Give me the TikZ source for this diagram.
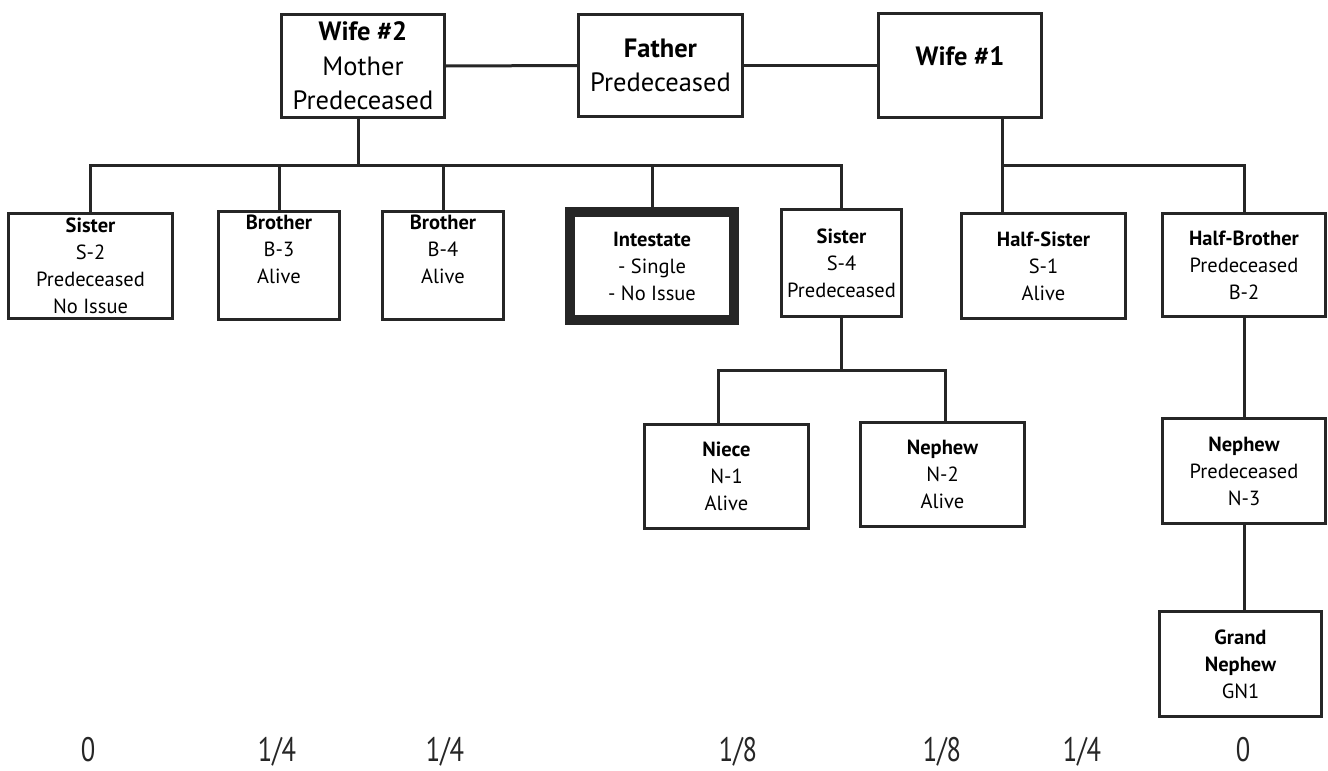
\documentclass[tikz,border=0pt]{standalone}
\usepackage{fontspec}
\setmainfont{PT Sans}
\begin{document}
\begin{tikzpicture}[x=1pt,y=-1pt,
  box/.style={draw=black!85,line width=3pt,rectangle,inner sep=0pt,align=center},
  big/.style={font=\fontsize{26.5}{34.5}\selectfont},
  small/.style={font=\fontsize{20.5}{27}\selectfont},
  frac/.style={font=\fontsize{34}{36}\selectfont,anchor=base,inner sep=0pt,text=black!85},
  link/.style={draw=black!85,line width=3pt}]
\useasboundingbox (0,0) rectangle (1328,771);
\fill[white] (0,0) rectangle (1328,771);
% generation 1
\node[box,big,minimum width=163,minimum height=103] (w2) at (363,66) {\textbf{Wife \#2}\\Mother\\Predeceased};
\node[box,big,minimum width=164,minimum height=102] (fa) at (660.5,65.5) {\textbf{Father}\\Predeceased};
\node[box,big,minimum width=163,minimum height=104,text height=18pt,text depth=18pt] (w1) at (960,65.5) {\textbf{Wife \#1}};
% generation 2
\node[box,small,minimum width=164,minimum height=105] (s2) at (90.5,266) {\textbf{Sister}\\S-2\\Predeceased\\No Issue};
\node[box,small,minimum width=121,minimum height=108] (b3) at (279,265.5) {\textbf{Brother}\\B-3\\Alive\\[6pt]};
\node[box,small,minimum width=121,minimum height=108] (b4) at (443,265.5) {\textbf{Brother}\\B-4\\Alive\\[6pt]};
\node[box,small,line width=10pt,minimum width=164,minimum height=108] (in) at (652,266) {\textbf{Intestate}\\- Single\\- No Issue};
\node[box,small,minimum width=120,minimum height=107] (s4) at (841.5,263) {\textbf{Sister}\\S-4\\Predeceased};
\node[box,small,minimum width=164,minimum height=105] (hs) at (1043.5,266) {\textbf{Half-Sister}\\S-1\\Alive};
\node[box,small,minimum width=163,minimum height=103] (hb) at (1244,265) {\textbf{Half-Brother}\\Predeceased\\B-2};
% generation 3
\node[box,small,minimum width=164,minimum height=104] (ni) at (726.5,476.5) {\textbf{Niece}\\N-1\\Alive};
\node[box,small,minimum width=164,minimum height=104] (ne) at (942.5,474.5) {\textbf{Nephew}\\N-2\\Alive};
\node[box,small,minimum width=163,minimum height=105] (n3) at (1244,471) {\textbf{Nephew}\\Predeceased\\N-3};
% generation 4
\node[box,small,minimum width=162,minimum height=105] (gn) at (1240.5,664) {\textbf{Grand}\\\textbf{Nephew}\\GN1};
% junctions
\coordinate (j2) at (358,165);
\coordinate (j1) at (1002,165);
\coordinate (j3l) at (718,370);
\coordinate (j3r) at (945,370);
% connectors
\draw[link] (w2.east) -- (fa.west);
\draw[link] (fa.east) -- (w1.west);
\draw[link] (w2.south -| j2) -- (j2);
\draw[link] (s2.north) |- (s4.north |- j2) -- (s4.north);
\draw[link] (b3.north) -- (b3.north |- j2);
\draw[link] (b4.north) -- (b4.north |- j2);
\draw[link] (in.north) -- (in.north |- j2);
\draw[link] (w1.south -| j1) -- (hs.north -| j1);
\draw[link] (j1) -| (hb.north);
\draw[link] (s4.south) -- (s4.south |- j3l);
\draw[link] (ni.north -| j3l) |- (j3r) -- (ne.north -| j3r);
\draw[link] (hb.south) -- (n3.north);
\draw[link] (n3.south) -- (n3.south |- gn.north);
% shares
\node[frac] (f1) at (88,761) {\scalebox{0.78}[1]{0}};
\node[frac] (f2) at (277,761) {\scalebox{0.78}[1]{1/4}};
\node[frac] (f3) at (445,761) {\scalebox{0.78}[1]{1/4}};
\node[frac] (f4) at (738,761) {\scalebox{0.78}[1]{1/8}};
\node[frac] (f5) at (942,761) {\scalebox{0.78}[1]{1/8}};
\node[frac] (f6) at (1082,761) {\scalebox{0.78}[1]{1/4}};
\node[frac] (f7) at (1243,761) {\scalebox{0.78}[1]{0}};
\end{tikzpicture}
\end{document}
